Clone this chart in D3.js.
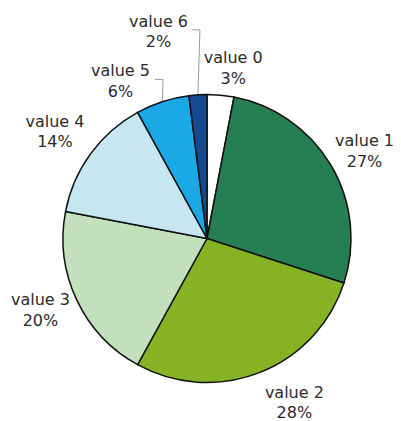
<!DOCTYPE html>
<html>
<head>
<meta charset="utf-8">
<script src="https://cdn.jsdelivr.net/npm/d3@7"></script>
<style>
  body { margin: 0; background: #fff; }
  text { font-family: "DejaVu Sans", Verdana, sans-serif; font-size: 16px; fill: #2b2b2b; }
</style>
</head>
<body>
<svg id="chart" width="401" height="421"></svg>
<script>
// data
var labels = ["value 0", "value 1", "value 2", "value 3", "value 4", "value 5", "value 6"];
var values = [3, 27, 28, 20, 14, 6, 2];
var colors = ["#ffffff", "#267f53", "#86b324", "#c2e0bc", "#c6e6f1", "#1ba8e6", "#154a8e"];

var svg = d3.select("#chart"),
    cx = 207, cy = 238.5, radius = 144;

var total = d3.sum(values);

var pie = d3.pie().sort(null).value(function(d) { return d; });
var arcs = pie(values);

var arc = d3.arc().innerRadius(0).outerRadius(radius);
var labelArc = d3.arc().innerRadius(183).outerRadius(183);
var edgeArc = d3.arc().innerRadius(radius).outerRadius(radius);

// label nudges (layout only)
var nudge = [[9, 11], [0, 5], [20, -7], [-1, -7], [-4, 0], [-30, 16], [-37, -25]];

var g = svg.append("g").attr("transform", "translate(" + cx + "," + cy + ")");

g.selectAll("path.slice")
  .data(arcs)
  .join("path")
    .attr("class", "slice")
    .attr("d", arc)
    .attr("fill", function(d, i) { return colors[i]; })
    .attr("stroke", "#111")
    .attr("stroke-width", 1.5)
    .attr("stroke-linejoin", "round");

// leader lines for the thin slices
[5, 6].forEach(function(i) {
  var s = edgeArc.centroid(arcs[i]);
  var c = labelArc.centroid(arcs[i]);
  var ly = c[1] + nudge[i][1] - 1;
  var ex = s[0] + (i === 6 ? 2 : 0.5);
  g.append("polyline")
    .attr("points", [[s[0], s[1] - 1], [ex, ly], [ex - 8, ly]].join(" "))
    .attr("fill", "none")
    .attr("stroke", "#999")
    .attr("stroke-width", 1);
});

var lab = g.selectAll("text.lab")
  .data(arcs)
  .join("text")
    .attr("class", "lab")
    .attr("text-anchor", "middle")
    .attr("transform", function(d, i) {
      var c = labelArc.centroid(d);
      return "translate(" + (c[0] + nudge[i][0]) + "," + (c[1] + nudge[i][1]) + ")";
    });

lab.append("tspan").attr("x", 0).attr("y", -4)
  .text(function(d, i) { return labels[i]; });
lab.append("tspan").attr("x", 0).attr("y", 16.5)
  .text(function(d) { return Math.round(d.value / total * 100) + "%"; });
</script>
</body>
</html>
